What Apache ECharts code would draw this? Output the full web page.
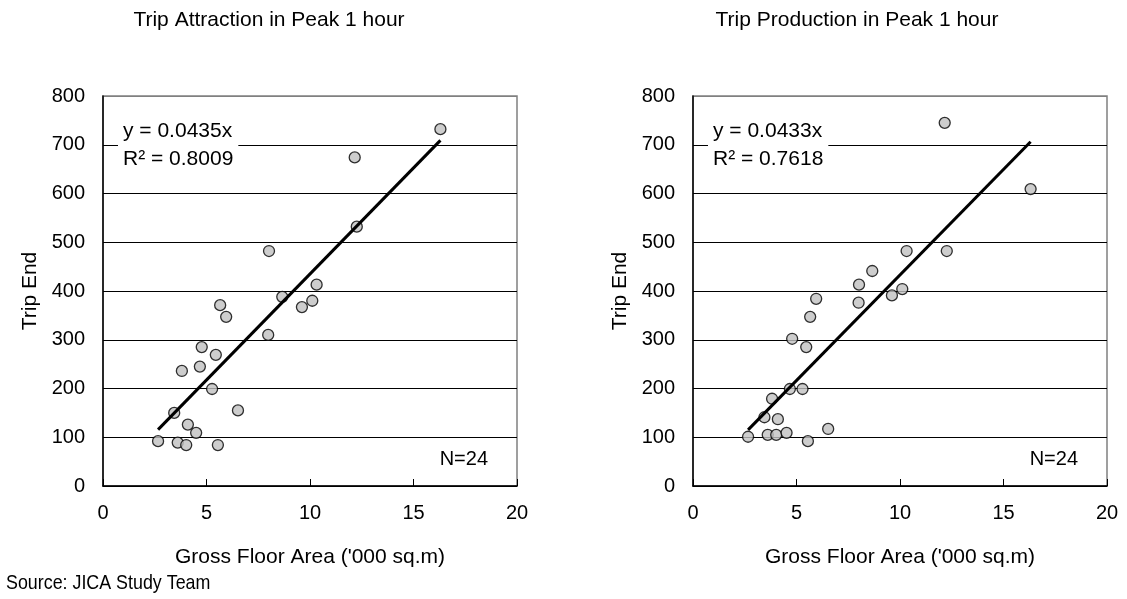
<!DOCTYPE html>
<html>
<head>
<meta charset="utf-8">
<script src="https://cdn.jsdelivr.net/npm/echarts@6/dist/echarts.min.js"></script>
<style>
html,body{margin:0;padding:0;background:#fff;}
#chart{width:1127px;height:599px;}
</style>
</head>
<body>
<div id="chart"></div>
<script>
// Data
const titles = ['Trip Attraction in Peak 1 hour', 'Trip Production in Peak 1 hour'];
const xTickLabels = [0, 5, 10, 15, 20];
const yTickLabels = [0, 100, 200, 300, 400, 500, 600, 700, 800];

const attrX = [16.30, 12.16, 12.26, 8.02, 10.32, 8.66, 10.11, 9.61, 5.66, 5.95, 7.98, 4.77, 5.45, 4.68, 3.81, 5.27, 3.44, 6.52, 4.10, 4.50, 2.66, 3.61, 4.02, 5.55];
const attrY = [732, 674, 532, 482, 413, 388, 380, 367, 371, 347, 310, 285, 269, 245, 236, 199, 150, 155, 126, 109, 92, 89, 84, 84];

const prodX = [12.16, 16.31, 10.32, 12.26, 8.66, 8.02, 10.11, 9.61, 5.95, 8.00, 5.66, 4.79, 5.47, 4.68, 5.29, 3.82, 3.45, 4.10, 6.53, 2.66, 3.61, 4.02, 4.52, 5.55];
const prodY = [745, 609, 482, 482, 441, 413, 404, 391, 384, 376, 347, 302, 285, 199, 199, 179, 141, 137, 117, 101, 105, 105, 109, 92];

// regression y = a * x (x in sq.m, the axis shows '000 sq.m)
const slopes = [0.0435, 0.0433];
const r2 = ['0.8009', '0.7618'];
const nLabel = 'N=24';

const font = 'Liberation Sans, Arial, sans-serif';
const chart = echarts.init(document.getElementById('chart'));

function pairs(xs, ys) { return xs.map((x, i) => [x, ys[i]]); }
function trend(xs, a) {
  const lo = Math.min(...xs), hi = Math.max(...xs);
  return [[lo, a * 1000 * lo], [hi, a * 1000 * hi]];
}

const grids = [
  { left: 103, top: 96, width: 414, height: 390 },
  { left: 693, top: 96, width: 414, height: 390 }
];
const splitColors = ['#000', '#000', '#000', '#000', '#000', '#000', '#000', '#000', '#808080'];

function xAxis(i) {
  return {
    type: 'value', gridIndex: i, min: 0, max: 20, interval: 5,
    name: "Gross Floor Area ('000 sq.m)", nameLocation: 'middle', nameGap: 61,
    nameTextStyle: { fontFamily: font, fontSize: 21, color: '#000' },
    axisLine: { show: true, lineStyle: { color: '#000', width: 1.5 } },
    axisTick: { show: true, inside: true, length: 7, lineStyle: { color: '#000' } },
    axisLabel: { fontFamily: font, fontSize: 20, color: '#000', margin: 17,
      formatter: v => xTickLabels.includes(v) ? String(v) : '' },
    splitLine: { show: false }
  };
}
function yAxis(i) {
  return {
    type: 'value', gridIndex: i, min: 0, max: 800, interval: 100,
    name: 'Trip End', nameLocation: 'middle', nameGap: 62, nameRotate: 90,
    nameTextStyle: { fontFamily: font, fontSize: 21, color: '#000' },
    axisLine: { show: true, lineStyle: { color: '#000', width: 1.5 } },
    axisTick: { show: false },
    axisLabel: { fontFamily: font, fontSize: 20, color: '#000', margin: 18,
      formatter: v => yTickLabels.includes(v) ? String(v) : '' },
    splitLine: { show: true, lineStyle: { color: splitColors, width: 1 } }
  };
}

const scatterStyle = { color: '#c0c0c0', borderColor: '#000', borderWidth: 1.3 };
const datasets = [pairs(attrX, attrY), pairs(prodX, prodY)];
const trends = [trend(attrX, slopes[0]), trend(prodX, slopes[1])];

const series = [];
[0, 1].forEach(i => {
  series.push({ type: 'scatter', xAxisIndex: i, yAxisIndex: i, data: datasets[i],
    symbol: 'circle', symbolSize: 11, itemStyle: scatterStyle, z: 3, silent: true });
  series.push({ type: 'line', xAxisIndex: i, yAxisIndex: i, data: trends[i],
    showSymbol: false, symbol: 'none', lineStyle: { color: '#000', width: 3 }, z: 4, silent: true });
});

const graphic = [];
[0, 1].forEach(i => {
  const gx = grids[i].left;
  graphic.push({
    type: 'text', left: gx + 15, top: 116, z: 10,
    style: {
      text: 'y = ' + slopes[i] + 'x\nR² = ' + r2[i],
      fontFamily: font, fontSize: 21, fill: '#000', lineHeight: 28,
      align: 'center', backgroundColor: '#fff', padding: [1, 5, 0, 5]
    }
  });
  graphic.push({
    type: 'text', right: 1127 - (gx + 385), top: 449, z: 10,
    style: { text: nLabel, fontFamily: font, fontSize: 20, fill: '#000' }
  });
});
graphic.push({
  type: 'text', left: 6, top: 573, z: 10, scaleX: 0.85, originX: 0,
  style: { text: 'Source: JICA Study Team', fontFamily: font, fontSize: 21, fill: '#000' }
});

chart.setOption({
  animation: false,
  backgroundColor: '#fff',
  title: [
    { text: titles[0], left: 269, top: 10, textAlign: 'center', padding: 0,
      textStyle: { fontFamily: font, fontSize: 21, fontWeight: 'normal', color: '#000' } },
    { text: titles[1], left: 857, top: 10, textAlign: 'center', padding: 0,
      textStyle: { fontFamily: font, fontSize: 21, fontWeight: 'normal', color: '#000' } }
  ],
  grid: grids.map(g => Object.assign({ show: true, borderColor: '#808080', borderWidth: 1.5, backgroundColor: 'transparent' }, g)),
  xAxis: [xAxis(0), xAxis(1)],
  yAxis: [yAxis(0), yAxis(1)],
  series: series,
  graphic: graphic
});
</script>
</body>
</html>
